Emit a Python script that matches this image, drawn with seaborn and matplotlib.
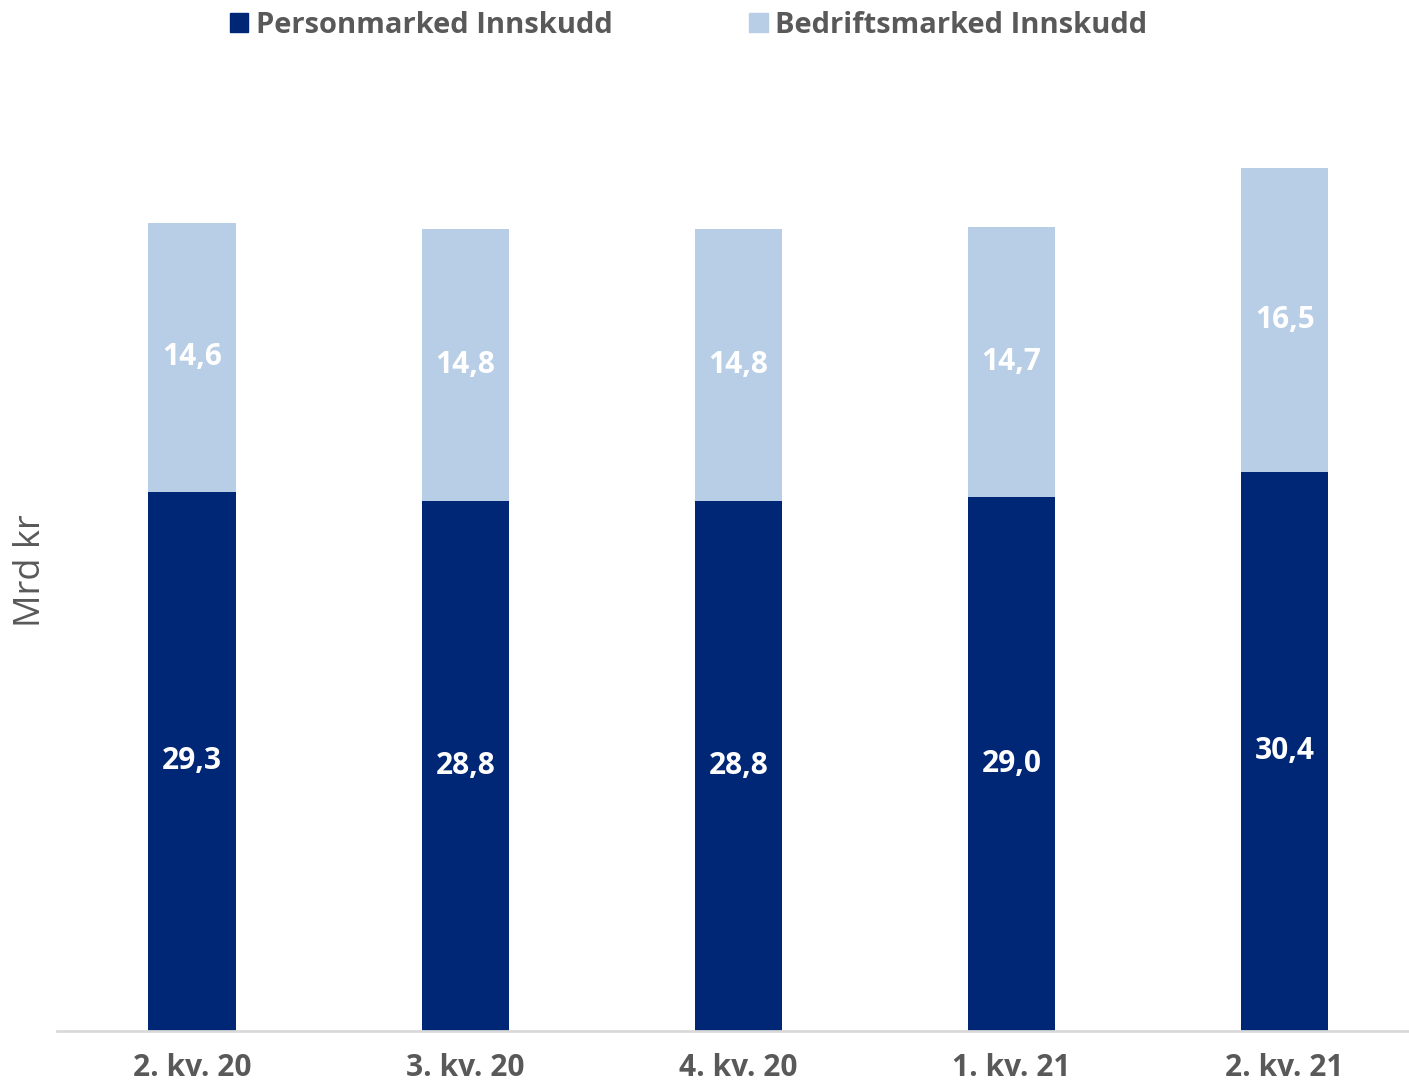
import matplotlib
matplotlib.use("Agg")
import matplotlib.pyplot as plt
import seaborn as sns
import numpy as np
import pandas as pd
from matplotlib.patches import Patch

categories = ["2. kv. 20", "3. kv. 20", "4. kv. 20", "1. kv. 21", "2. kv. 21"]
personmarked = [29.3, 28.8, 28.8, 29.0, 30.4]
bedriftsmarked = [14.6, 14.8, 14.8, 14.7, 16.5]
series_names = ["Personmarked Innskudd", "Bedriftsmarked Innskudd"]

DARK = "#002776"
LIGHT = "#B8CDE6"
GRAY = "#595959"

sns.set_theme(style="white")
plt.rcParams["font.family"] = ["Open Sans", "DejaVu Sans"]

df = pd.DataFrame({"kvartal": categories, "pm": personmarked, "bm": bedriftsmarked})
df["total"] = df["pm"] + df["bm"]

fig = plt.figure(figsize=(14.09, 10.83), dpi=100)
ax = fig.add_axes([57 / 1409, 52 / 1083, 1 - 57 / 1409, (1031 - 52) / 1083])

sns.barplot(data=df, x="kvartal", y="total", color=LIGHT, width=0.32, ax=ax,
            saturation=1, linewidth=0)
sns.barplot(data=df, x="kvartal", y="pm", color=DARK, width=0.32, ax=ax,
            saturation=1, linewidth=0)

ax.set_xlim(-0.495, 4.455)
ax.set_ylim(0, 53.2)

for i, (p, b) in enumerate(zip(personmarked, bedriftsmarked)):
    ax.text(i, p / 2, f"{p:.1f}".replace(".", ","), ha="center", va="center",
            color="white", fontsize=21.5, fontweight="bold")
    ax.text(i, p + b / 2, f"{b:.1f}".replace(".", ","), ha="center", va="center",
            color="white", fontsize=21.5, fontweight="bold")

for s in ["top", "right", "left"]:
    ax.spines[s].set_visible(False)
ax.spines["bottom"].set_color("#D9D9D9")
ax.spines["bottom"].set_linewidth(2)
ax.set_yticks([])
ax.set_xlabel("")
ax.set_ylabel("Mrd kr", fontsize=26, color=GRAY)
ax.yaxis.set_label_coords(-0.006, 0.47)
ax.tick_params(axis="x", length=0, pad=16)
for t in ax.get_xticklabels():
    t.set_fontsize(21.5)
    t.set_fontweight("bold")
    t.set_color(GRAY)

handles = [Patch(color=DARK), Patch(color=LIGHT)]
leg = fig.legend(handles, series_names, loc="upper center", bbox_to_anchor=(0.4887, 1.014),
                 ncol=2, frameon=False, handlelength=0.62, handleheight=0.62,
                 handletextpad=0.25, columnspacing=4.7,
                 prop={"size": 21, "weight": "bold"})
for t in leg.get_texts():
    t.set_color(GRAY)

fig.savefig("out.png", dpi=100)
